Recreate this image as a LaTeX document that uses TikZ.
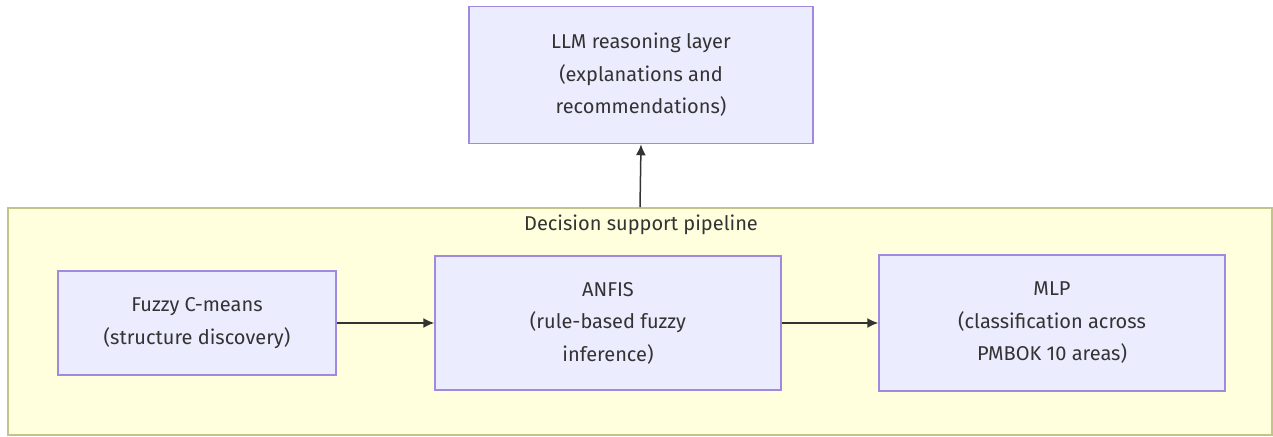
\documentclass[tikz,border=0pt]{standalone}
\usepackage{fontspec}
\setmainfont{Fira Sans}
\usepackage{tikz}
\usetikzlibrary{arrows.meta}
\tikzset{>={Latex[width=10pt,length=11pt]}}
\usepackage{color}
\definecolor{boxfill}{HTML}{ECECFF}
\definecolor{boxline}{HTML}{A08AE0}
\definecolor{grpfill}{HTML}{FFFFDE}
\definecolor{grpline}{HTML}{C2C48A}
\definecolor{edgecol}{HTML}{333333}
\tikzset{
  box/.style={draw=boxline, fill=boxfill, line width=1.5pt, align=center, inner sep=0pt,
    font=\fontsize{20}{32.5}\selectfont, text=edgecol},
  flow/.style={->, draw=edgecol, line width=1.5pt},
}

\begin{document}
\begin{tikzpicture}[x=1pt,y=-1pt]
    \useasboundingbox (0,0) rectangle (1273,436);
    % group
    \node[draw=grpline, fill=grpfill, line width=1.8pt, inner sep=0pt,
      minimum width=1264pt, minimum height=227pt] (Pipe) at (640,321.5) {};
    \node[font=\fontsize{20}{32}\selectfont, text=edgecol] (Title) at (641,225) {Decision support pipeline};
    \node[box, minimum width=344pt, minimum height=137pt] (Llm) at (641,75) {LLM reasoning layer\\(explanations and\\recommendations)};
    \node[box, minimum width=278pt, minimum height=104pt] (Fcm) at (197,323) {Fuzzy C-means\\(structure discovery)};
    \node[box, minimum width=346pt, minimum height=134pt] (Anfis) at (608,323) {ANFIS\\(rule-based fuzzy\\inference)};
    \node[box, minimum width=346pt, minimum height=136pt] (Mlp) at (1052,323) {MLP\\(classification across\\PMBOK 10 areas)};
    \draw[flow] (Fcm) -- (Anfis);
    \draw[flow] (Anfis) -- (Mlp);
    \draw[flow] (Pipe.north) -- (Llm.south);
  \end{tikzpicture}
\end{document}
